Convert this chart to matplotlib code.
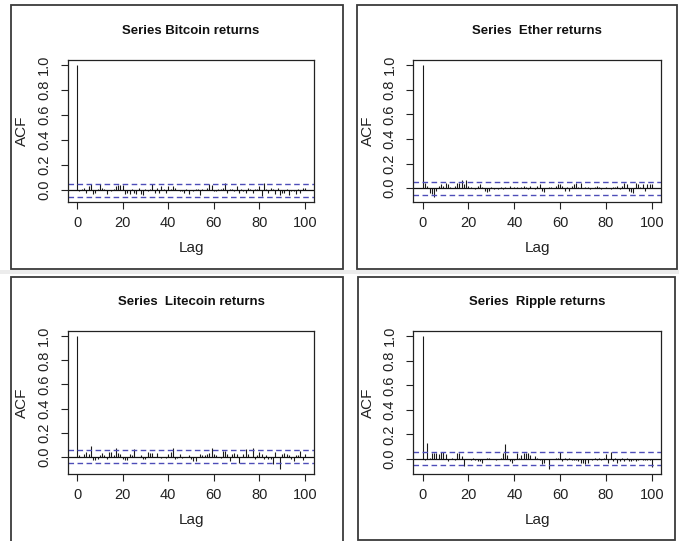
import numpy as np
import matplotlib
matplotlib.use("Agg")
import matplotlib.pyplot as plt
from matplotlib.patches import Rectangle

plt.rcParams['font.family'] = ['Liberation Sans', 'DejaVu Sans']

# ---------------- data (lags 1..100; lag 0 is 1.0) ----------------
titles = ["Series Bitcoin returns", "Series  Ether returns",
          "Series  Litecoin returns", "Series  Ripple returns"]

bitcoin = [-0.01, 0.01, 0.02, -0.02, 0.03, 0.05, -0.03, -0.02, 0.01, 0.05,
           0.02, 0.01, -0.03, 0.00, -0.01, 0.01, 0.03, 0.04, 0.045, 0.04,
           -0.03, -0.02, -0.03, 0.01, -0.02, -0.03, 0.02, -0.03, -0.04, 0.01,
           -0.01, 0.01, 0.05, -0.02, 0.02, -0.02, 0.03, 0.01, -0.02, 0.03,
           0.01, 0.03, 0.02, 0.00, -0.01, -0.01, -0.02, 0.01, -0.03, 0.00,
           -0.01, 0.01, 0.01, -0.04, 0.01, 0.00, 0.02, 0.05, 0.04, -0.01,
           -0.01, 0.01, 0.01, 0.02, 0.06, -0.02, 0.01, 0.01, -0.01, 0.03,
           -0.02, 0.01, -0.01, -0.02, 0.02, 0.01, -0.02, 0.01, 0.01, 0.03,
           -0.05, 0.06, 0.01, -0.02, 0.02, 0.01, -0.03, 0.02, -0.04, -0.02,
           -0.02, 0.01, -0.04, -0.01, -0.01, -0.03, 0.01, -0.02, 0.02, 0.02]

ether = [0.04, 0.02, -0.04, -0.05, -0.07, -0.02, 0.02, 0.03, 0.02, 0.04,
         0.03, 0.01, 0.00, 0.02, 0.04, 0.04, 0.07, 0.03, 0.07, 0.02,
         0.01, 0.00, -0.01, 0.02, 0.03, 0.01, -0.02, -0.03, -0.02, 0.01,
         -0.01, 0.00, -0.01, 0.01, -0.01, 0.01, 0.00, 0.02, 0.00, 0.01,
         0.01, 0.00, 0.01, 0.02, 0.01, -0.01, 0.02, 0.00, -0.01, 0.02,
         0.03, -0.02, -0.03, 0.00, 0.01, 0.01, 0.00, 0.02, 0.03, 0.03,
         0.02, -0.02, 0.01, -0.02, 0.02, 0.03, 0.04, 0.01, 0.04, 0.00,
         0.01, 0.01, -0.01, 0.00, 0.01, 0.02, 0.01, -0.01, 0.00, 0.01,
         0.00, -0.01, 0.01, 0.01, 0.02, -0.01, 0.02, 0.04, 0.03, -0.02,
         -0.03, -0.04, 0.04, 0.03, 0.01, 0.03, -0.02, 0.03, 0.03, 0.03]

litecoin = [0.01, 0.00, 0.02, 0.04, 0.02, 0.09, -0.03, -0.03, -0.02, 0.01,
            0.03, 0.01, -0.02, 0.04, 0.04, 0.01, 0.07, 0.03, 0.02, -0.02,
            -0.03, -0.03, 0.02, 0.01, 0.06, 0.00, 0.00, 0.01, -0.02, -0.02,
            0.04, 0.03, 0.03, 0.00, 0.03, 0.00, -0.01, 0.00, -0.01, 0.02,
            0.04, 0.07, -0.02, -0.01, 0.02, -0.01, 0.00, 0.00, 0.01, -0.02,
            -0.04, -0.04, 0.00, 0.02, 0.01, 0.01, 0.02, 0.03, 0.07, 0.02,
            0.01, 0.00, -0.01, 0.05, 0.05, 0.02, -0.04, 0.02, 0.03, 0.02,
            -0.05, 0.00, 0.02, 0.06, 0.02, 0.00, 0.07, -0.02, 0.01, 0.04,
            0.02, -0.02, 0.01, -0.02, -0.02, -0.06, 0.04, 0.00, -0.10, 0.02,
            0.03, 0.02, 0.01, -0.02, -0.04, 0.01, 0.01, 0.05, -0.03, 0.02]

ripple = [-0.01, 0.13, 0.01, 0.05, 0.05, 0.05, 0.04, 0.06, 0.06, 0.04,
          -0.02, 0.00, 0.01, -0.01, 0.05, 0.05, 0.02, -0.06, 0.00, 0.00,
          -0.01, 0.01, -0.01, -0.02, -0.02, -0.03, 0.00, 0.01, 0.01, 0.00,
          0.00, -0.01, 0.00, 0.01, 0.05, 0.12, 0.03, -0.02, -0.03, -0.01,
          0.05, 0.01, 0.03, 0.05, 0.05, 0.05, 0.03, 0.00, 0.02, 0.01,
          -0.01, -0.04, -0.03, 0.00, -0.08, 0.00, 0.00, 0.01, 0.01, 0.06,
          -0.02, 0.01, -0.01, 0.01, -0.01, -0.01, -0.01, -0.02, -0.03, -0.03,
          -0.04, -0.03, 0.00, -0.01, 0.01, -0.01, 0.01, -0.01, 0.01, 0.04,
          -0.03, 0.06, -0.02, 0.01, -0.03, -0.02, 0.01, -0.02, 0.01, -0.02,
          -0.02, -0.01, -0.02, -0.01, 0.00, -0.01, -0.01, -0.01, -0.01, -0.07]

series = [bitcoin, ether, litecoin, ripple]
conf_limit = [0.053, 0.053, 0.053, 0.053]
x_ticks = [0, 20, 40, 60, 80, 100]
y_ticks = [0.0, 0.2, 0.4, 0.6, 0.8, 1.0]

# ---------------- layout (pixels, top-left origin) ----------------
W, H = 679, 541
fig = plt.figure(figsize=(W / 100, H / 100), dpi=100)
fig.patch.set_facecolor('white')


def frac(x0, y0, x1, y1):
    return [x0 / W, 1 - y1 / H, (x1 - x0) / W, (y1 - y0) / H]


# light gray band between rows
fig.patches.append(Rectangle((0, 1 - 274 / H), 1, 4 / H, transform=fig.transFigure,
                             facecolor='#ececec', edgecolor='none', zorder=0))

frames = [(10.5, 5, 343, 269), (357, 5, 677, 269),
          (10.5, 277, 343, 545), (358, 277, 675, 540)]
for (fx0, fy0, fx1, fy1) in frames:
    fig.patches.append(Rectangle((fx0 / W, 1 - fy1 / H), (fx1 - fx0) / W, (fy1 - fy0) / H,
                                 transform=fig.transFigure, facecolor='none',
                                 edgecolor='#3a3a3a', linewidth=1.3, zorder=1))

axes_boxes = [(68, 60, 314, 202), (413.5, 60, 661, 202),
              (68, 331, 314, 474), (413.5, 331, 661, 474)]

for k in range(4):
    vals = np.array([1.0] + series[k])
    lags = np.arange(len(vals))
    ci = conf_limit[k]
    x0, y0, x1, y1 = axes_boxes[k]
    ax = fig.add_axes(frac(x0, y0, x1, y1))
    ax.vlines(lags, 0, vals, color='#1a1a1a', linewidth=0.8)
    ax.axhline(0, color='#111111', linewidth=0.9)
    ax.axhline(ci, color='#4d4db8', linewidth=1.0, linestyle=(0, (4, 2.5)))
    ax.axhline(-ci, color='#4d4db8', linewidth=1.0, linestyle=(0, (4, 2.5)))
    lo = min(vals.min(), -ci)
    hi = max(vals.max(), ci)
    pad = 0.04 * (hi - lo)
    ax.set_ylim(lo - pad, hi + pad)
    ax.set_xlim(-4, 104)
    ax.set_xticks(x_ticks)
    ax.set_yticks(y_ticks)
    ax.set_yticklabels([f"{v:.1f}" for v in y_ticks], rotation=90, va='center')
    ax.tick_params(direction='out', length=5, width=0.8, labelsize=10.5,
                   colors='#222222')
    ax.tick_params(axis='y', pad=7)
    ax.tick_params(axis='x', pad=5)
    for s in ax.spines.values():
        s.set_linewidth(0.9)
        s.set_color('#222222')
    ax.set_xlabel("Lag", fontsize=11, color='#222222')
    ax.set_ylabel("ACF", fontsize=11, color='#222222')
    ax.xaxis.set_label_coords(0.5, -46 / (y1 - y0), transform=ax.transAxes)
    ax.yaxis.set_label_coords(-46 / (x1 - x0), 0.5, transform=ax.transAxes)
    ax.xaxis.label.set_va('center')
    ax.yaxis.label.set_va('center')
    ax.set_title(titles[k], fontsize=9.5, fontweight='bold', pad=19, color='#111111')

fig.savefig("out.png", dpi=100, facecolor='white')
